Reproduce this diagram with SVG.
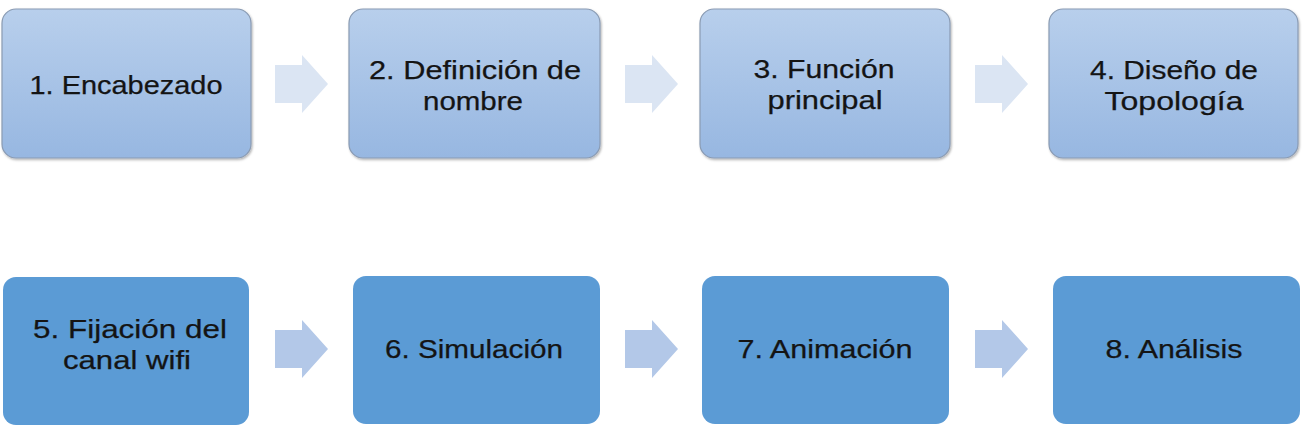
<svg xmlns="http://www.w3.org/2000/svg" width="1305" height="435" viewBox="0 0 1305 435">
<defs>
<linearGradient id="gTop" x1="0" y1="0" x2="0" y2="1">
<stop offset="0" stop-color="#b8cfec"/>
<stop offset="1" stop-color="#97b7e1"/>
</linearGradient>
<filter id="sh" x="-5%" y="-5%" width="110%" height="115%">
<feDropShadow dx="1" dy="1.5" stdDeviation="1.2" flood-color="#000" flood-opacity="0.3"/>
</filter>
<style>
.top{fill:url(#gTop);stroke:#8a9bb3;stroke-width:1.2;filter:url(#sh)}
.bot{fill:#5b9bd5}
.t{font-family:"Liberation Sans","Open Sans",sans-serif;font-size:26px;fill:#141414;stroke:#141414;stroke-width:0.25;text-anchor:middle}
.a1{fill:#dbe5f3}
.a2{fill:#b3c8e8}
</style>
</defs>
<g id="connectors">
<path class="a1" d="M275 65H302V55L328 84L302 113V103H275Z"/>
<path class="a1" d="M625 65H652V55L678 84L652 113V103H625Z"/>
<path class="a1" d="M975 65H1002V55L1028 84L1002 113V103H975Z"/>
<path class="a2" d="M275 330H302V320L328 349L302 378V368H275Z"/>
<path class="a2" d="M625 330H652V320L678 349L652 378V368H625Z"/>
<path class="a2" d="M975 330H1002V320L1028 349L1002 378V368H975Z"/>
</g>
<g id="n1"><rect class="top" x="2" y="9" width="249" height="149" rx="14"/>
<text class="t" x="126" y="94" textLength="193" lengthAdjust="spacingAndGlyphs">1. Encabezado</text></g>
<g id="n2"><rect class="top" x="349" y="9" width="251" height="149" rx="14"/>
<text class="t" x="475" y="79" textLength="212" lengthAdjust="spacingAndGlyphs">2. Definición de</text>
<text class="t" x="473" y="110" textLength="100" lengthAdjust="spacingAndGlyphs">nombre</text></g>
<g id="n3"><rect class="top" x="700" y="9" width="250" height="149" rx="14"/>
<text class="t" x="824" y="78" textLength="141" lengthAdjust="spacingAndGlyphs">3. Función</text>
<text class="t" x="825" y="109" textLength="115" lengthAdjust="spacingAndGlyphs">principal</text></g>
<g id="n4"><rect class="top" x="1049" y="9" width="249" height="149" rx="14"/>
<text class="t" x="1174" y="79" textLength="168" lengthAdjust="spacingAndGlyphs">4. Diseño de</text>
<text class="t" x="1174" y="110" textLength="139" lengthAdjust="spacingAndGlyphs">Topología</text></g>
<g id="n5"><rect class="bot" x="3" y="277" width="246" height="148" rx="13"/>
<text class="t" x="130" y="338" textLength="194" lengthAdjust="spacingAndGlyphs">5. Fijación del</text>
<text class="t" x="127" y="369" textLength="128" lengthAdjust="spacingAndGlyphs">canal wifi</text></g>
<g id="n6"><rect class="bot" x="353" y="276" width="247" height="148" rx="13"/>
<text class="t" x="474" y="358" textLength="178" lengthAdjust="spacingAndGlyphs">6. Simulación</text></g>
<g id="n7"><rect class="bot" x="702" y="276" width="247" height="148" rx="13"/>
<text class="t" x="825" y="358" textLength="175" lengthAdjust="spacingAndGlyphs">7. Animación</text></g>
<g id="n8"><rect class="bot" x="1053" y="276" width="247" height="148" rx="13"/>
<text class="t" x="1174" y="358" textLength="137" lengthAdjust="spacingAndGlyphs">8. Análisis</text></g>
</svg>
